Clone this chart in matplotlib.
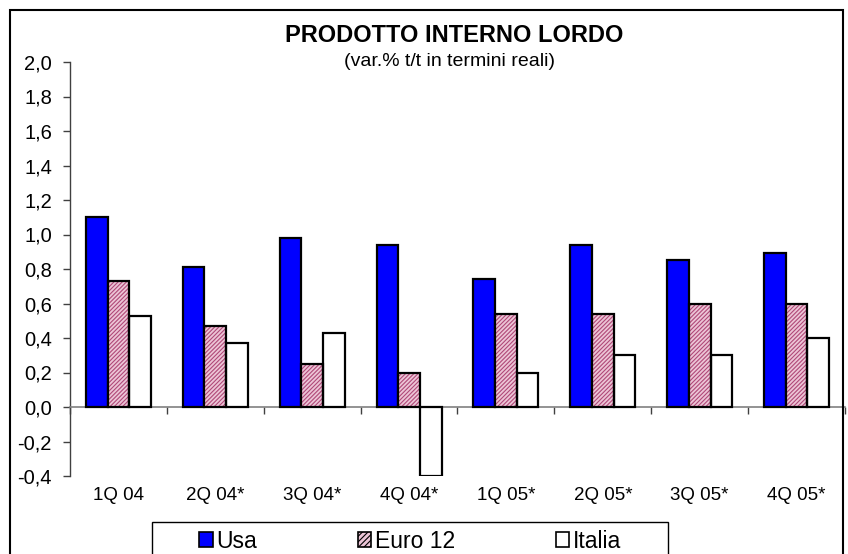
import matplotlib
matplotlib.use("Agg")
import matplotlib.pyplot as plt
from matplotlib.patches import Rectangle, Patch
from matplotlib.ticker import FuncFormatter, FixedLocator
import numpy as np

plt.rcParams['font.family'] = ['Liberation Sans', 'DejaVu Sans']
plt.rcParams['hatch.linewidth'] = 0.8

quarters = ["1Q 04", "2Q 04*", "3Q 04*", "4Q 04*", "1Q 05*", "2Q 05*", "3Q 05*", "4Q 05*"]
usa = [1.10, 0.81, 0.98, 0.94, 0.74, 0.94, 0.85, 0.89]
euro12 = [0.73, 0.47, 0.25, 0.20, 0.54, 0.54, 0.60, 0.60]
italia = [0.53, 0.37, 0.43, -0.40, 0.20, 0.30, 0.30, 0.40]

W, H = 848, 554
fig = plt.figure(figsize=(W / 100, H / 100), dpi=100, facecolor="white")
ax = fig.add_axes([70 / W, 1 - 476 / H, 775 / W, 414 / H])

x = np.arange(len(quarters))
bw = 0.224
PINK_FC, PINK_HATCH = "#ecc4d6", "#b04878"

ax.bar(x - bw, usa, bw, color="#0000ff", edgecolor="black", lw=1.6, zorder=3)
# hatched fill first, then a plain black outline on top
ax.bar(x, euro12, bw, color=PINK_FC, edgecolor=PINK_HATCH, hatch="////////", lw=0, zorder=3)
ax.bar(x, euro12, bw, fill=False, edgecolor="black", lw=1.6, zorder=4)
ax.bar(x + bw, italia, bw, color="white", edgecolor="black", lw=1.6, zorder=3)

ax.set_xlim(-0.5, len(quarters) - 0.5)
ax.set_ylim(-0.4, 2.0)
ax.set_yticks(np.arange(-0.4, 2.01, 0.2))
ax.yaxis.set_major_formatter(FuncFormatter(lambda v, p: f"{v:.1f}".replace(".", ",").replace("-0,0", "0,0")))
ax.tick_params(axis="y", direction="out", length=5, width=1, color="#404040",
               labelsize=14.5, pad=8)

for s in ("top", "right"):
    ax.spines[s].set_visible(False)
ax.spines["left"].set_color("#404040")
ax.spines["left"].set_linewidth(1.0)
ax.spines["bottom"].set_position(("data", 0))
ax.spines["bottom"].set_color("#808080")
ax.spines["bottom"].set_linewidth(1.2)
ax.xaxis.set_major_locator(FixedLocator(np.arange(-0.5, len(quarters), 1.0)))
ax.tick_params(axis="x", direction="out", length=5, width=1, color="#404040", labelbottom=False)

for i, q in enumerate(quarters):
    ax.text(i, -0.046, q, transform=ax.get_xaxis_transform(), ha="center", va="center",
            fontsize=13.5)

fig.text(454 / W, 1 - 35 / H, "PRODOTTO INTERNO LORDO", ha="center", va="center",
         fontsize=17, fontweight="bold")
fig.text(450 / W, 1 - 62 / H, "(var.% t/t in termini reali)", ha="center", va="center",
         fontsize=14)

handles = [
    Patch(facecolor="#0000ff", edgecolor="black", lw=1.2),
    Patch(facecolor=PINK_FC, edgecolor="black", lw=1.2, hatch="//////"),
    Patch(facecolor="white", edgecolor="black", lw=1.2),
]
leg = fig.legend(handles, ["Usa", "Euro 12", "Italia"], loc="center left",
                 bbox_to_anchor=(199 / W, 1 - 541 / H, 422 / W, 0), mode="expand",
                 ncol=3, fontsize=16.5, handlelength=0.6, handleheight=0.6,
                 handletextpad=0.15, borderpad=0, borderaxespad=0, frameon=False)

# legend box, running off the bottom edge
fig.patches.append(Rectangle((152 / W, -0.05), 516 / W, 0.05 + 1 - 522 / H,
                             transform=fig.transFigure, fill=False, edgecolor="black",
                             lw=1.0, clip_on=False))
# outer chart border, open at the bottom edge
fig.patches.append(Rectangle((10 / W, -0.05), 833 / W, 1.05 - 10 / H, transform=fig.transFigure,
                             fill=False, edgecolor="black", lw=1.5, clip_on=False))

fig.savefig("out.png", dpi=100, facecolor="white")
